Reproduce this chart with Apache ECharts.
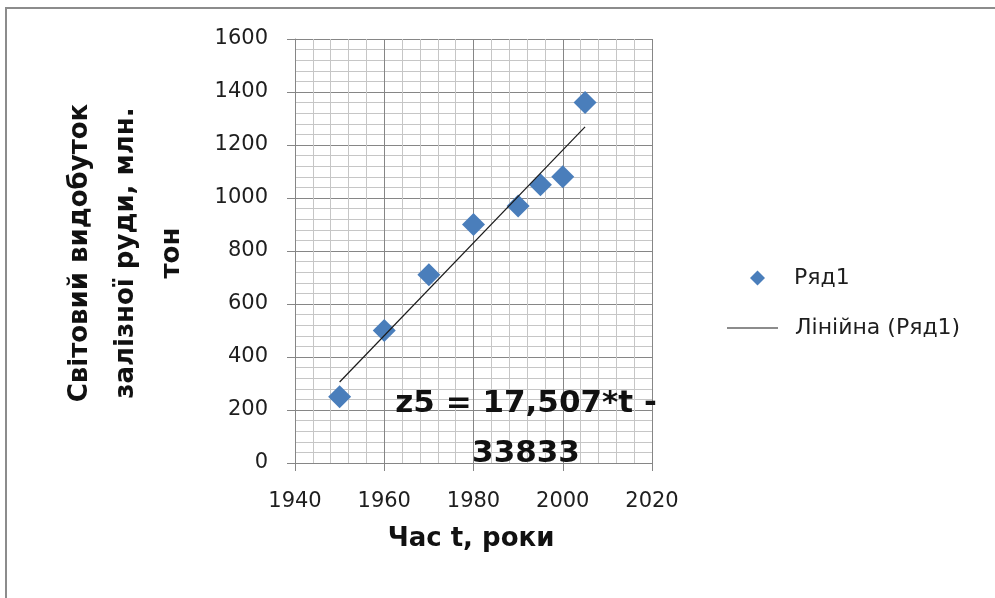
<!DOCTYPE html>
<html>
<head>
<meta charset="utf-8">
<script src="https://cdn.jsdelivr.net/npm/echarts@6/dist/echarts.min.js"></script>
<style>
  html, body { margin: 0; padding: 0; background: #ffffff; }
  #chart { width: 995px; height: 598px; }
</style>
</head>
<body>
<div id="chart"></div>
<script>
// World iron ore output by year (million tonnes)
const years = [1950, 1960, 1970, 1980, 1990, 1995, 2000, 2005];
const output = [250, 500, 710, 900, 970, 1050, 1080, 1360];

// Axis ranges and steps
const xMin = 1940, xMax = 2020, xStep = 20;
const yMin = 0, yMax = 1600, yStep = 200;

// Linear trend coefficients shown in the equation label
const trendSlope = 17.507;
const trendIntercept = -33833;

const seriesName = 'Ряд1';
const trendName = 'Лінійна (Ряд1)';
const xTitle = 'Час t, роки';
const yTitle = 'Світовий видобуток\nзалізної руди, млн.\nтон';

const FONT = '"DejaVu Sans", sans-serif';

const points = years.map((t, i) => [t, output[i]]);
const tFirst = years[0], tLast = years[years.length - 1];
const trendPoints = [
  [tFirst, trendSlope * tFirst + trendIntercept],
  [tLast, trendSlope * tLast + trendIntercept]
];
const equationText =
  'z5 = ' + String(trendSlope).replace('.', ',') + '*t -\n' + Math.abs(trendIntercept);

const chart = echarts.init(document.getElementById('chart'), null, { renderer: 'canvas' });

const majorLine = { show: true, lineStyle: { color: '#868686', width: 1 } };
const minorLine = { show: true, lineStyle: { color: '#c6c6c6', width: 1 } };
const plainNumber = (v) => String(v);

chart.setOption({
  backgroundColor: '#ffffff',
  animation: false,
  grid: { left: 295, right: 343, top: 39, bottom: 135, containLabel: false },
  xAxis: {
    type: 'value',
    min: xMin, max: xMax, interval: xStep,
    axisLine: { show: true, lineStyle: { color: '#868686', width: 1 } },
    axisTick: { show: true, length: 8, lineStyle: { color: '#868686' } },
    minorTick: { show: false, splitNumber: 5 },
    splitLine: majorLine,
    minorSplitLine: minorLine,
    axisLabel: { margin: 28, color: '#1e1e1e', fontFamily: FONT, fontSize: 21, formatter: plainNumber }
  },
  yAxis: {
    type: 'value',
    min: yMin, max: yMax, interval: yStep,
    axisLine: { show: true, lineStyle: { color: '#868686', width: 1 } },
    axisTick: { show: true, length: 8, lineStyle: { color: '#868686' } },
    minorTick: { show: false, splitNumber: 5 },
    splitLine: majorLine,
    minorSplitLine: minorLine,
    axisLabel: {
      margin: 27, color: '#1e1e1e', fontFamily: FONT, fontSize: 21,
      padding: [5, 0, 0, 0], formatter: plainNumber
    }
  },
  legend: [
    {
      data: [{ name: seriesName, icon: 'diamond' }],
      left: 745, top: 262,
      itemWidth: 15, itemHeight: 15,
      textStyle: { color: '#1e1e1e', fontFamily: FONT, fontSize: 22, padding: [0, 0, 0, 24] }
    },
    {
      data: [{ name: trendName, icon: 'path://M0,0L51,0L51,1L0,1Z' }],
      left: 722, top: 312,
      itemWidth: 51, itemHeight: 1.2,
      textStyle: { color: '#1e1e1e', fontFamily: FONT, fontSize: 22, padding: [0, 0, 0, 12] }
    }
  ],
  series: [
    {
      name: seriesName,
      type: 'scatter',
      data: points,
      symbol: 'diamond',
      symbolSize: 23,
      itemStyle: { color: '#4a7ebb', opacity: 1 },
      z: 2
    },
    {
      name: trendName,
      type: 'line',
      data: trendPoints,
      symbol: 'none',
      showSymbol: false,
      lineStyle: { color: '#1a1a1a', width: 1.2 },
      itemStyle: { color: '#1a1a1a' },
      z: 3
    }
  ],
  graphic: [
    {
      type: 'rect',
      shape: { x: 6, y: 8, width: 1100, height: 700 },
      style: { fill: 'none', stroke: '#8c8c8c', lineWidth: 2 },
      silent: true
    },
    {
      type: 'text',
      x: 526, y: 429,
      z: 10,
      style: {
        text: equationText,
        fontFamily: FONT, fontWeight: 'bold', fontSize: 31,
        lineHeight: 50,
        fill: '#111111',
        align: 'center', verticalAlign: 'middle'
      }
    },
    {
      type: 'text',
      x: 471, y: 539,
      style: {
        text: xTitle,
        fontFamily: FONT, fontWeight: 'bold', fontSize: 26,
        fill: '#111111',
        align: 'center', verticalAlign: 'middle'
      }
    },
    {
      type: 'text',
      x: 126, y: 253,
      rotation: Math.PI / 2,
      style: {
        text: yTitle,
        fontFamily: FONT, fontWeight: 'bold', fontSize: 26,
        lineHeight: 46,
        fill: '#111111',
        align: 'center', verticalAlign: 'middle'
      }
    }
  ]
});
</script>
</body>
</html>
